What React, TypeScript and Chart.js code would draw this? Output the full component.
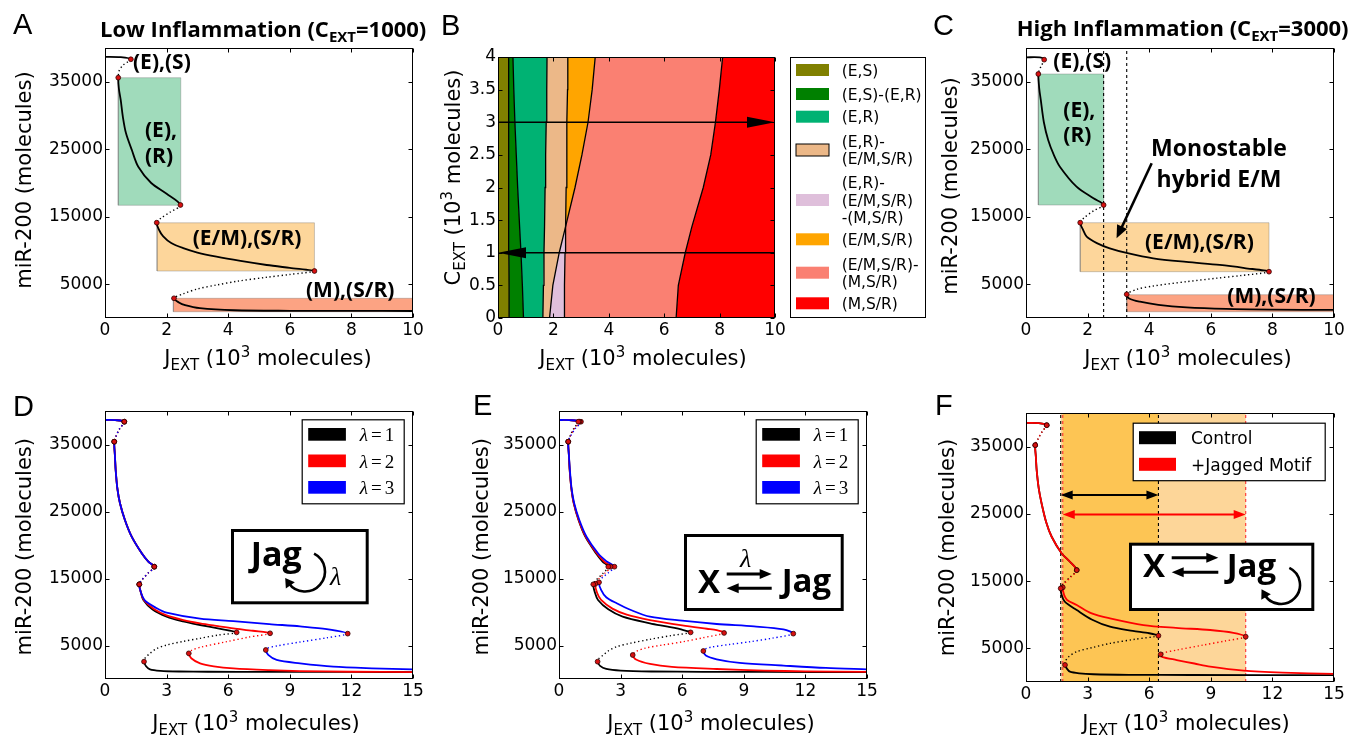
import React, { useEffect, useRef } from 'react';
import { Chart, registerables } from 'chart.js';
Chart.register(...registerables);

type Pt = [number, number];

// ---------------- DATA ----------------
const MIR_TICKS = [5000, 15000, 25000, 35000];
const J10_TICKS = [0, 2, 4, 6, 8, 10];
const J15_TICKS = [0, 3, 6, 9, 12, 15];
const C_TICKS = [0, 0.5, 1, 1.5, 2, 2.5, 3, 3.5, 4];

// Panel A (C_EXT = 1000): branches alternate stable / unstable, sharing fold points
const A_CURVE: Pt[][] = [
  [[0, 38700], [0.5, 38650], [0.84, 38330]],
  [[0.84, 38330], [0.59, 37480], [0.46, 36630], [0.43, 35600]],
  [[0.43, 35600], [0.45, 34000], [0.51, 32300], [0.58, 29800], [0.68, 27400], [0.87, 24900], [1.08, 22400], [1.5, 20000], [2.0, 18400], [2.45, 16740]],
  [[2.45, 16740], [2.12, 15700], [1.82, 14800], [1.68, 14120]],
  [[1.68, 14120], [1.76, 13000], [1.89, 12100], [2.15, 11100], [2.54, 10350], [3.0, 9700], [3.62, 9080], [4.4, 8450], [5.25, 7850], [6.0, 7420], [6.8, 6960]],
  [[6.8, 6960], [6.0, 6450], [5.25, 6030], [4.3, 5450], [3.62, 4890], [3.0, 4300], [2.55, 3600], [2.24, 2920]],
  [[2.24, 2920], [2.4, 2300], [2.6, 1900], [3.08, 1450], [4.2, 1150], [6, 1070], [8, 1050], [10, 1040]],
];
const A_BOX_J = [[0.43, 2.46], [1.69, 6.8], [2.22, 10]];
const A_BOX_MIR = [[16700, 35600], [6960, 14100], [930, 2920]];

// Panel C (C_EXT = 3000)
const C_CURVE: Pt[][] = [
  [[0, 38620], [0.45, 38600], [0.59, 38270]],
  [[0.59, 38270], [0.5, 37400], [0.43, 36700], [0.4, 36150]],
  [[0.4, 36150], [0.43, 34000], [0.48, 32300], [0.58, 29000], [0.72, 26370], [0.9, 24200], [1.1, 22420], [1.64, 19460], [2.19, 17730], [2.52, 16740]],
  [[2.52, 16740], [2.2, 15900], [1.9, 14900], [1.76, 14120]],
  [[1.76, 14120], [1.85, 13100], [1.97, 12050], [2.3, 11100], [2.72, 10320], [3.3, 9600], [4.13, 8840], [5.2, 8300], [6.29, 7860], [7.1, 7400], [7.89, 6860]],
  [[7.89, 6860], [7.0, 6300], [6.2, 5900], [5.21, 5380], [4.13, 4740], [3.6, 4250], [3.27, 3510]],
  [[3.27, 3510], [3.35, 2900], [3.7, 2420], [4.3, 1950], [5.21, 1580], [6.5, 1350], [8, 1250], [10, 1190]],
];
const C_BOX_J = [[0.4, 2.52], [1.76, 7.89], [3.27, 10]];
const C_BOX_MIR = [[16740, 36150], [6860, 14120], [930, 3450]];
const C_DASH_J = [2.52, 3.27];
const C_NOTE_ARROW = [4.08, 22920, 2.94, 11800];

// Panel B phase diagram: boundaries J_EXT(C_EXT)
const B_C = [0, 0.5, 1, 1.4, 2, 2.5, 3, 3.5, 4];
const B_B1 = [0.4, 0.4, 0.39, 0.39, 0.39, 0.39, 0.38, 0.38, 0.38];
const B_B2 = [0.92, 0.88, 0.83, 0.78, 0.71, 0.66, 0.61, 0.57, 0.54];
const B_B3 = [1.62, 1.64, 1.66, 1.68, 1.7, 1.72, 1.74, 1.76, 1.77];
const B_B4 = [1.86, 1.98, 2.21, 2.44, 2.78, 3.03, 3.25, 3.4, 3.51];
const B_B5 = [2.39, 2.4, 2.42, 2.44, 2.46, 2.48, 2.49, 2.51, 2.52];
const B_B6 = [6.43, 6.51, 6.76, 7.0, 7.41, 7.68, 7.85, 7.99, 8.11];
const B_CROSS = 3;
const B_ARROW_C = [3, 1];
const B_LABELS = [['(E,S)'], ['(E,S)-(E,R)'], ['(E,R)'], ['(E,R)-', '(E/M,S/R)'], ['(E,R)-', '(E/M,S/R)', '-(M,S/R)'], ['(E/M,S/R)'], ['(E/M,S/R)-', '(M,S/R)'], ['(M,S/R)']];
const B_COLORS = ['#808000', '#008000', '#00b273', '#ecb888', '#dfbfdb', '#ffa500', '#fa8072', '#ff0000'];

// Panels D / E: lambda = 1, 2, 3
const D_TOP: Pt[][] = [
  [[0, 38660], [0.5, 38640], [0.94, 38400]],
  [[0.94, 38400], [0.72, 37400], [0.53, 36200], [0.45, 35420]],
  [[0.45, 35420], [0.48, 33500], [0.52, 31190], [0.6, 28500], [0.73, 26220], [0.97, 23730], [1.3, 21240], [1.79, 18760], [2.11, 17520], [2.4, 16760]],
  [[2.4, 16760], [2.1, 15800], [1.8, 14800], [1.67, 14130]],
];
const D_L1_LOW: Pt[][] = [
  [[1.67, 14130], [1.75, 12900], [1.87, 11790], [2.3, 10400], [3.0, 9300], [3.8, 8600], [4.63, 8060], [5.5, 7550], [6.41, 6960]],
  [[6.41, 6960], [5.5, 6550], [4.63, 6070], [3.8, 5600], [3.0, 5070], [2.5, 4500], [2.19, 3830], [1.95, 3100], [1.9, 2590]],
  [[1.9, 2590], [2.0, 1900], [2.19, 1440], [2.7, 1220], [3.6, 1120], [5, 1080], [8, 1060], [12, 1050], [15, 1040]],
];
const D_L2_LOW: Pt[][] = [
  [[1.67, 14130], [1.75, 12900], [1.9, 11750], [2.4, 10400], [3.0, 9500], [3.82, 8800], [4.63, 8310], [5.5, 7900], [6.25, 7560], [7.2, 7200], [8.04, 6820]],
  [[8.04, 6820], [7.0, 6250], [5.93, 5570], [4.63, 4730], [4.2, 4250], [4.08, 3830]],
  [[4.08, 3830], [4.2, 3100], [4.63, 2340], [5.3, 1900], [6.25, 1590], [8, 1330], [9.5, 1190], [12, 1080], [15, 1030]],
];
const D_L3_LOW: Pt[][] = [
  [[1.67, 14130], [1.75, 12900], [1.95, 11700], [2.5, 10600], [3.0, 9900], [4.63, 9000], [6.25, 8650], [8.0, 8200], [9.5, 7850], [10.8, 7450], [11.82, 6770]],
  [[11.82, 6770], [10.8, 6150], [9.5, 5520], [8.36, 4930], [7.9, 4600], [7.83, 4330]],
  [[7.83, 4330], [7.95, 3600], [8.36, 2840], [9.5, 2340], [11.12, 1840], [13, 1600], [15, 1440]],
];
const E_L1: Pt[][] = [
  [[0, 38660], [0.5, 38640], [0.94, 38400]],
  [[0.94, 38400], [0.72, 37400], [0.53, 36200], [0.45, 35420]],
  [[0.45, 35420], [0.48, 33500], [0.52, 31190], [0.6, 28500], [0.72, 26220], [0.95, 23730], [1.28, 21240], [1.8, 18760], [2.12, 17520], [2.4, 16760]],
  [[2.4, 16760], [2.12, 15700], [1.82, 14800], [1.67, 14130]],
  [[1.67, 14130], [1.75, 12900], [1.9, 11800], [2.4, 10400], [3.1, 9300], [4.43, 8310], [5.3, 7800], [6.06, 7310], [6.41, 6960]],
  [[6.41, 6960], [5.5, 6500], [4.43, 5920], [3.5, 5350], [2.81, 4830], [2.4, 4200], [2.16, 3580], [1.92, 3000], [1.88, 2590]],
  [[1.88, 2590], [2.0, 1950], [2.3, 1500], [3.0, 1250], [4.5, 1120], [7, 1070], [10, 1050], [15, 1040]],
];
const E_L2: Pt[][] = [
  [[0, 38660], [0.5, 38640], [1.0, 38400]],
  [[1.0, 38400], [0.76, 37400], [0.54, 36200], [0.45, 35420]],
  [[0.45, 35420], [0.48, 33500], [0.52, 31190], [0.6, 28500], [0.72, 26220], [0.96, 23730], [1.3, 21240], [1.84, 18760], [2.2, 17520], [2.51, 16760]],
  [[2.51, 16760], [2.22, 15750], [1.92, 14900], [1.77, 14200]],
  [[1.77, 14200], [1.85, 12900], [2.05, 11800], [2.6, 10500], [3.3, 9600], [4.43, 8800], [6.0, 8000], [7.2, 7500], [7.68, 7310], [8.04, 6870]],
  [[8.04, 6870], [7.0, 6150], [6.06, 5570], [5.0, 5050], [4.2, 4600], [3.75, 4100], [3.59, 3580]],
  [[3.59, 3580], [3.75, 2900], [4.43, 2240], [5.5, 1800], [7.68, 1490], [10, 1250], [12, 1150], [15, 1050]],
];
const E_L3: Pt[][] = [
  [[0, 38660], [0.5, 38640], [1.07, 38400]],
  [[1.07, 38400], [0.8, 37400], [0.55, 36200], [0.45, 35420]],
  [[0.45, 35420], [0.48, 33500], [0.53, 31190], [0.61, 28500], [0.74, 26220], [0.99, 23730], [1.34, 21240], [1.9, 18760], [2.3, 17600], [2.7, 16760]],
  [[2.7, 16760], [2.4, 15850], [2.1, 15100], [1.95, 14430]],
  [[1.95, 14430], [2.05, 13300], [2.3, 12200], [2.81, 11300], [3.5, 10300], [4.43, 9300], [6.0, 8700], [7.68, 8210], [9.5, 7850], [10.93, 7410], [11.41, 6770]],
  [[11.41, 6770], [10.4, 6100], [9.31, 5570], [8.3, 5150], [7.4, 4750], [7.1, 4450], [7.03, 4180]],
  [[7.03, 4180], [7.15, 3500], [7.68, 2940], [8.8, 2400], [10.93, 2000], [13, 1650], [15, 1450]],
];
const LAMBDA_LABELS = ['1', '2', '3'];

// Panel F: control vs +Jagged motif
const F_TOP: Pt[][] = [
  [[0, 38530], [0.6, 38500], [1.01, 38190]],
  [[1.01, 38190], [0.8, 37300], [0.58, 36100], [0.45, 35220]],
  [[0.45, 35220], [0.48, 33500], [0.52, 31500], [0.62, 28800], [0.76, 26550], [0.98, 23800], [1.25, 21600], [1.74, 19120], [2.14, 17880], [2.47, 16640]],
];
const F_CTRL_LOW: Pt[][] = [
  [[2.47, 16640], [2.15, 15600], [1.85, 14700], [1.69, 13920]],
  [[1.69, 13920], [1.75, 12800], [1.9, 11900], [2.47, 10700], [3.2, 9300], [4.09, 8220], [5.2, 7600], [6.0, 7250], [6.45, 6880]],
  [[6.45, 6880], [5.3, 6350], [4.09, 5740], [3.2, 5100], [2.47, 4500], [2.05, 3700], [1.92, 3050], [1.9, 2530]],
  [[1.9, 2530], [2.0, 1950], [2.14, 1530], [2.6, 1280], [3.28, 1150], [5, 1070], [8, 1040], [15, 1020]],
];
const F_JAG_LOW: Pt[][] = [
  [[2.47, 16640], [2.2, 15650], [1.92, 14800], [1.79, 14070]],
  [[1.79, 14070], [1.85, 13000], [2.0, 12200], [2.47, 11440], [3.2, 10200], [4.09, 9460], [5.72, 8470], [7.3, 8050], [8.97, 7730], [10.1, 7300], [10.7, 6730]],
  [[10.7, 6730], [9.7, 6100], [8.64, 5500], [7.34, 4750], [6.7, 4350], [6.56, 4110]],
  [[6.56, 4110], [6.62, 3750], [7.34, 3270], [8.2, 2750], [8.97, 2280], [10.6, 1690], [12.5, 1400], [15, 1200]],
];
const F_CTRL_RANGE = [1.69, 6.45];
const F_JAG_RANGE = [1.79, 10.7];
const F_ARROW_MIR = [27790, 24920];
const F_LABELS = ['Control', '+Jagged Motif'];

// ---------------- HELPERS ----------------
const DOT = [1.3, 2.7];
const BOX_COLORS = ['#a0dbbb', '#fdd69b', '#fca383'];

function curveDatasets(branches: Pt[][], color: string, order: number) {
  const pts: any[] = [];
  const unstable: boolean[] = [];
  const folds: any[] = [];
  branches.forEach((br, bi) => {
    br.forEach((p, pi) => {
      if (bi > 0 && pi === 0) return;
      if (pts.length > 0) unstable.push(bi % 2 === 1);
      pts.push({ x: p[0], y: p[1] });
    });
    if (bi < branches.length - 1) folds.push({ x: br[br.length - 1][0], y: br[br.length - 1][1] });
  });
  return [
    {
      data: pts, borderColor: color, borderWidth: 1.8, pointRadius: 0, tension: 0.3, fill: false, order,
      segment: {
        borderDash: (c: any) => (unstable[c.p0DataIndex] ? DOT : undefined),
        borderWidth: (c: any) => (unstable[c.p0DataIndex] ? 1.4 : undefined),
      },
    },
    {
      data: folds, showLine: false, pointRadius: 2.4, pointBackgroundColor: '#d81010',
      pointBorderColor: '#300000', pointBorderWidth: 0.8, order: -1,
    },
  ];
}

function poly(points: any[], color: string, order = 20, border = 0, borderColor = 'transparent') {
  return { data: points, fill: 'shape', backgroundColor: color, borderWidth: border, borderColor, pointRadius: 0, tension: 0, order };
}

function boxes(js: number[][], ys: number[][]) {
  return js.map((j, i) => poly([
    { x: j[0], y: ys[i][0] }, { x: j[1], y: ys[i][0] }, { x: j[1], y: ys[i][1] }, { x: j[0], y: ys[i][1] }, { x: j[0], y: ys[i][0] },
  ], BOX_COLORS[i], 20, 0.8, 'rgba(110,110,110,0.45)'));
}

function vline(j: number, yMax: number, color: string) {
  return { data: [{ x: j, y: 0 }, { x: j, y: yMax }], borderColor: color, borderWidth: 1.1, borderDash: [3, 3], pointRadius: 0, fill: false, order: 10 };
}

function band(j0: number, j1: number, yMax: number, color: string) {
  return poly([{ x: j0, y: 0 }, { x: j1, y: 0 }, { x: j1, y: yMax }, { x: j0, y: yMax }, { x: j0, y: 0 }], color, 20);
}

function region(left: number[], right: number[], cs: number[]) {
  return [...cs.map((c, i) => ({ x: left[i], y: c })), ...cs.map((c, i) => ({ x: right[i], y: c })).reverse()];
}

function boundary(b: number[]) {
  return { data: b.map((j, i) => ({ x: j, y: B_C[i] })), borderColor: '#000', borderWidth: 1.3, pointRadius: 0, tension: 0, fill: false, order: 5 };
}

interface ArrowSpec { x0: number; y0: number; x1: number; y1: number; color: string; width: number; both: boolean; len: number; half: number; }

function head(ctx: any, tx: number, ty: number, ux: number, uy: number, len: number, half: number) {
  ctx.beginPath();
  ctx.moveTo(tx, ty);
  ctx.lineTo(tx - ux * len - uy * half, ty - uy * len + ux * half);
  ctx.lineTo(tx - ux * len + uy * half, ty - uy * len - ux * half);
  ctx.closePath();
  ctx.fill();
}

function decoPlugin(arrows: ArrowSpec[]) {
  return {
    id: 'deco',
    afterDatasetsDraw(chart: any) {
      const { ctx, chartArea: a } = chart;
      const xs = chart.scales.x, ys = chart.scales.y;
      ctx.save();
      for (const ar of arrows) {
        const p0x = xs.getPixelForValue(ar.x0), p0y = ys.getPixelForValue(ar.y0);
        const p1x = xs.getPixelForValue(ar.x1), p1y = ys.getPixelForValue(ar.y1);
        const d = Math.hypot(p1x - p0x, p1y - p0y);
        const ux = (p1x - p0x) / d, uy = (p1y - p0y) / d;
        ctx.strokeStyle = ar.color; ctx.fillStyle = ar.color; ctx.lineWidth = ar.width;
        const sx = ar.both ? p0x + ux * ar.len * 0.8 : p0x, sy = ar.both ? p0y + uy * ar.len * 0.8 : p0y;
        ctx.beginPath(); ctx.moveTo(sx, sy); ctx.lineTo(p1x - ux * ar.len * 0.8, p1y - uy * ar.len * 0.8); ctx.stroke();
        head(ctx, p1x, p1y, ux, uy, ar.len, ar.half);
        if (ar.both) head(ctx, p0x, p0y, -ux, -uy, ar.len, ar.half);
      }
      ctx.strokeStyle = '#000'; ctx.lineWidth = 1;
      const L = a.left + 0.5, R = a.right - 0.5, T = a.top + 0.5, B = a.bottom - 0.5;
      ctx.beginPath();
      for (const t of xs.ticks) {
        const px = Math.round(xs.getPixelForValue(t.value)) + 0.5;
        ctx.moveTo(px, B); ctx.lineTo(px, B - 4);
        ctx.moveTo(px, T); ctx.lineTo(px, T + 4);
      }
      for (const t of ys.ticks) {
        const py = Math.round(ys.getPixelForValue(t.value)) + 0.5;
        ctx.moveTo(L, py); ctx.lineTo(L + 4, py);
        ctx.moveTo(R, py); ctx.lineTo(R - 4, py);
      }
      ctx.stroke();
      ctx.strokeRect(L, T, R - L, B - T);
      ctx.restore();
    },
  };
}

interface Panel { key: string; L: number; T: number; R: number; B: number; xMax: number; xTicks: number[]; yMax: number; yTicks: number[]; datasets: any[]; arrows: ArrowSpec[]; }

const YW = 70, XH = 30, PT = 12, PR = 18;

function makeConfig(p: Panel): any {
  const font = { family: 'DejaVu Sans', size: 17 };
  return {
    type: 'line',
    data: { datasets: p.datasets },
    options: {
      animation: false, responsive: false, devicePixelRatio: 1, events: [],
      layout: { padding: { left: 0, top: PT, right: PR, bottom: 0 } },
      plugins: { legend: { display: false }, tooltip: { enabled: false } },
      scales: {
        x: {
          type: 'linear', min: 0, max: p.xMax,
          grid: { display: false, drawTicks: false }, border: { display: false },
          afterBuildTicks: (s: any) => { s.ticks = p.xTicks.map((v) => ({ value: v })); },
          afterFit: (s: any) => { s.height = XH; s.paddingLeft = 0; s.paddingRight = 0; },
          ticks: { font, color: '#000', padding: 2, autoSkip: false, maxRotation: 0, callback: (v: any) => String(v) },
        },
        y: {
          type: 'linear', min: 0, max: p.yMax,
          grid: { display: false, drawTicks: false }, border: { display: false },
          afterBuildTicks: (s: any) => { s.ticks = p.yTicks.map((v) => ({ value: v })); },
          afterFit: (s: any) => { s.width = YW; s.paddingTop = 0; s.paddingBottom = 0; },
          ticks: { font, color: '#000', padding: 2, autoSkip: false, callback: (v: any) => String(v) },
        },
      },
    },
    plugins: [decoPlugin(p.arrows)],
  };
}

function ChartPanel({ p }: { p: Panel }) {
  const ref = useRef<HTMLCanvasElement>(null);
  useEffect(() => {
    const chart = new Chart(ref.current as HTMLCanvasElement, makeConfig(p));
    return () => chart.destroy();
  }, []);
  const w = p.R - p.L + YW + PR, h = p.B - p.T + PT + XH;
  return <canvas ref={ref} width={w} height={h} style={{ position: 'absolute', left: p.L - YW, top: p.T - PT, width: w, height: h }} />;
}

// ---------------- PANELS ----------------
const MIR_MAX = 40000;
const zeros = B_C.map(() => 0);
const tens = B_C.map(() => 10);
const k = B_CROSS;

const panels: Panel[] = [
  {
    key: 'A', L: 105, T: 48, R: 413, B: 318, xMax: 10, xTicks: J10_TICKS, yMax: MIR_MAX, yTicks: MIR_TICKS,
    datasets: [...boxes(A_BOX_J, A_BOX_MIR), ...curveDatasets(A_CURVE, '#000', 2)], arrows: [],
  },
  {
    key: 'B', L: 498, T: 57, R: 775, B: 318, xMax: 10, xTicks: J10_TICKS, yMax: 4, yTicks: C_TICKS,
    datasets: [
      poly(region(zeros, B_B1, B_C), B_COLORS[0]),
      poly(region(B_B1, B_B2, B_C), B_COLORS[1]),
      poly(region(B_B2, B_B3, B_C), B_COLORS[2]),
      poly(region(B_B3, [...B_B4.slice(0, k), ...B_B5.slice(k)], B_C), B_COLORS[3]),
      poly(region(B_B4.slice(0, k + 1), B_B5.slice(0, k + 1), B_C.slice(0, k + 1)), B_COLORS[4]),
      poly(region(B_B5.slice(k), B_B4.slice(k), B_C.slice(k)), B_COLORS[5]),
      poly(region([...B_B5.slice(0, k), ...B_B4.slice(k)], B_B6, B_C), B_COLORS[6]),
      poly(region(B_B6, tens, B_C), B_COLORS[7]),
      boundary(B_B1), boundary(B_B2), boundary(B_B3), boundary(B_B4), boundary(B_B5), boundary(B_B6),
    ],
    arrows: [
      { x0: 0, y0: B_ARROW_C[0], x1: 10, y1: B_ARROW_C[0], color: '#000', width: 1.5, both: false, len: 28, half: 5.5 },
      { x0: 10, y0: B_ARROW_C[1], x1: 0, y1: B_ARROW_C[1], color: '#000', width: 1.5, both: false, len: 28, half: 5.5 },
    ],
  },
  {
    key: 'C', L: 1026, T: 48, R: 1334, B: 318, xMax: 10, xTicks: J10_TICKS, yMax: MIR_MAX, yTicks: MIR_TICKS,
    datasets: [...boxes(C_BOX_J, C_BOX_MIR), ...C_DASH_J.map((j) => vline(j, MIR_MAX, '#000')), ...curveDatasets(C_CURVE, '#000', 2)],
    arrows: [{ x0: C_NOTE_ARROW[0], y0: C_NOTE_ARROW[1], x1: C_NOTE_ARROW[2], y1: C_NOTE_ARROW[3], color: '#000', width: 2.6, both: false, len: 13, half: 5.5 }],
  },
  {
    key: 'D', L: 105, T: 411, R: 413, B: 679, xMax: 15, xTicks: J15_TICKS, yMax: MIR_MAX, yTicks: MIR_TICKS,
    datasets: [
      ...curveDatasets([...D_TOP, ...D_L1_LOW], '#000', 4),
      ...curveDatasets([...D_TOP, ...D_L2_LOW], '#ff0000', 3),
      ...curveDatasets([...D_TOP, ...D_L3_LOW], '#0000ff', 2),
    ],
    arrows: [],
  },
  {
    key: 'E', L: 559, T: 411, R: 867, B: 679, xMax: 15, xTicks: J15_TICKS, yMax: MIR_MAX, yTicks: MIR_TICKS,
    datasets: [
      ...curveDatasets(E_L1, '#000', 4),
      ...curveDatasets(E_L2, '#ff0000', 3),
      ...curveDatasets(E_L3, '#0000ff', 2),
    ],
    arrows: [],
  },
  {
    key: 'F', L: 1026, T: 413, R: 1334, B: 682, xMax: 15, xTicks: J15_TICKS, yMax: MIR_MAX, yTicks: MIR_TICKS,
    datasets: [
      band(Math.min(F_CTRL_RANGE[0], F_JAG_RANGE[0]), Math.max(F_CTRL_RANGE[1], F_JAG_RANGE[1]), MIR_MAX, '#fdd699'),
      { ...band(Math.max(F_CTRL_RANGE[0], F_JAG_RANGE[0]), Math.min(F_CTRL_RANGE[1], F_JAG_RANGE[1]), MIR_MAX, '#fdc554'), order: 19 },
      ...F_CTRL_RANGE.map((j) => vline(j, MIR_MAX, '#000')),
      ...F_JAG_RANGE.map((j) => vline(j, MIR_MAX, '#ff3030')),
      ...curveDatasets([...F_TOP, ...F_CTRL_LOW], '#000', 3),
      ...curveDatasets([...F_TOP, ...F_JAG_LOW], '#ff0000', 2),
    ],
    arrows: [
      { x0: F_CTRL_RANGE[0], y0: F_ARROW_MIR[0], x1: F_CTRL_RANGE[1], y1: F_ARROW_MIR[0], color: '#000', width: 2, both: true, len: 12, half: 4.5 },
      { x0: F_JAG_RANGE[0], y0: F_ARROW_MIR[1], x1: F_JAG_RANGE[1], y1: F_ARROW_MIR[1], color: '#ff0000', width: 2, both: true, len: 12, half: 4.5 },
    ],
  },
];

// ---------------- TEXT OVERLAY ----------------
const SANS = 'DejaVu Sans';
const BOLD = 'Open Sans';
const SERIF = 'Liberation Serif';
const LETTER = 'Liberation Sans';

function XTitle({ x, y }: { x: number; y: number }) {
  return (
    <text x={x} y={y} textAnchor="middle" fontFamily={SANS} fontSize={21} style={{ whiteSpace: 'pre' }}>
      J<tspan fontSize={15} dy={5}>EXT</tspan><tspan dy={-5}> (10</tspan><tspan fontSize={15} dy={-8}>3</tspan><tspan dy={8}> molecules)</tspan>
    </text>
  );
}
function YTitle({ x, y }: { x: number; y: number }) {
  return (
    <text transform={`translate(${x},${y}) rotate(-90)`} textAnchor="middle" fontFamily={SANS} fontSize={21}>miR-200 (molecules)</text>
  );
}
function Lbl({ x, y, t, size = 21, anchor = 'start' }: any) {
  return <text x={x} y={y} fontFamily={BOLD} fontWeight="bold" fontSize={size} textAnchor={anchor}>{t}</text>;
}
function SvgArrow({ x0, y0, x1, y1, w = 3, len = 12, half = 5 }: any) {
  const d = Math.hypot(x1 - x0, y1 - y0), ux = (x1 - x0) / d, uy = (y1 - y0) / d;
  const bx = x1 - ux * len, by = y1 - uy * len;
  return (
    <g>
      <line x1={x0} y1={y0} x2={x1 - ux * len * 0.7} y2={y1 - uy * len * 0.7} stroke="#000" strokeWidth={w} />
      <polygon points={`${x1},${y1} ${bx - uy * half},${by + ux * half} ${bx + uy * half},${by - ux * half}`} fill="#000" />
    </g>
  );
}
function CircArrow({ cx, cy, r, a0, a1 }: any) {
  const rad = Math.PI / 180;
  const p0 = [cx + r * Math.cos(a0 * rad), cy + r * Math.sin(a0 * rad)];
  const p1 = [cx + r * Math.cos(a1 * rad), cy + r * Math.sin(a1 * rad)];
  const tx = -Math.sin(a1 * rad), ty = Math.cos(a1 * rad);
  const tip = [p1[0] + tx * 6, p1[1] + ty * 6];
  const bx = p1[0] - tx * 3, by = p1[1] - ty * 3;
  return (
    <g>
      <path d={`M ${p0[0]} ${p0[1]} A ${r} ${r} 0 1 1 ${p1[0]} ${p1[1]}`} fill="none" stroke="#000" strokeWidth={2.6} />
      <polygon points={`${tip[0]},${tip[1]} ${bx - ty * 5.5},${by + tx * 5.5} ${bx + ty * 5.5},${by - tx * 5.5}`} fill="#000" />
    </g>
  );
}

function LambdaLegend({ x, y }: { x: number; y: number }) {
  const cols = ['#000', '#ff0000', '#0000ff'];
  return (
    <g>
      <rect x={x + 0.5} y={y + 0.5} width={102} height={84} fill="#fff" stroke="#000" strokeWidth={1.2} />
      {LAMBDA_LABELS.map((l, i) => (
        <g key={l}>
          <rect x={x + 6.5} y={y + 8.7 + i * 26.5} width={37.7} height={12.7} fill={cols[i]} />
          <text x={x + 58} y={y + 21.7 + i * 26.5} fontFamily={SERIF} fontSize={19}>
            <tspan fontStyle="italic">λ</tspan><tspan dx={3}>=</tspan><tspan dx={3}>{l}</tspan>
          </text>
        </g>
      ))}
    </g>
  );
}

function Overlay() {
  const bRows = [70, 94, 116.7, 150, 200, 239.3, 272.7, 303.3];
  return (
    <svg width={1360} height={736} style={{ position: 'absolute', left: 0, top: 0 }}>
      {/* panel letters */}
      {[['A', 13, 34.3], ['B', 441, 35], ['C', 933, 35], ['D', 13, 415.7], ['E', 473, 415], ['F', 935, 415]].map(([t, x, y]: any) => (
        <text key={t} x={x} y={y} fontFamily={LETTER} fontSize={29}>{t}</text>
      ))}
      {/* titles */}
      <text x={100} y={37.3} fontFamily={BOLD} fontWeight="bold" fontSize={22}>
        Low Inflammation (C<tspan fontSize={15} dy={5}>EXT</tspan><tspan dy={-5}>=1000)</tspan>
      </text>
      <text x={1016.7} y={36} fontFamily={BOLD} fontWeight="bold" fontSize={22}>
        High Inflammation (C<tspan fontSize={15} dy={5}>EXT</tspan><tspan dy={-5}>=3000)</tspan>
      </text>
      {/* axis titles */}
      <XTitle x={268} y={365} />
      <XTitle x={643} y={365} />
      <XTitle x={1188} y={365} />
      <XTitle x={256} y={730} />
      <XTitle x={711} y={730} />
      <XTitle x={1186} y={730} />
      <YTitle x={31} y={180} />
      <YTitle x={957} y={186} />
      <YTitle x={31} y={546.7} />
      <YTitle x={487.5} y={546.7} />
      <YTitle x={954} y={547.5} />
      <text transform="translate(460,177.5) rotate(-90)" textAnchor="middle" fontFamily={SANS} fontSize={21} style={{ whiteSpace: 'pre' }}>
        C<tspan fontSize={15} dy={5}>EXT</tspan><tspan dy={-5}> (10</tspan><tspan fontSize={15} dy={-8}>3</tspan><tspan dy={8}> molecules)</tspan>
      </text>
      {/* A labels */}
      <Lbl x={133} y={69} t="(E),(S)" />
      <Lbl x={145} y={136.7} t="(E)," />
      <Lbl x={145} y={163.3} t="(R)" />
      <Lbl x={192.7} y={245} t="(E/M),(S/R)" />
      <Lbl x={306} y={296.7} t="(M),(S/R)" />
      {/* C labels */}
      <Lbl x={1053.3} y={68.3} t="(E),(S)" />
      <Lbl x={1063.3} y={116.7} t="(E)," />
      <Lbl x={1063.3} y={141.7} t="(R)" />
      <Lbl x={1219} y={156} t="Monostable" size={23} anchor="middle" />
      <Lbl x={1219} y={187.3} t="hybrid E/M" size={23} anchor="middle" />
      <Lbl x={1145} y={249.3} t="(E/M),(S/R)" />
      <Lbl x={1227.3} y={303.3} t="(M),(S/R)" />
      {/* B legend */}
      <rect x={790.5} y={57.5} width={135} height={260} fill="#fff" stroke="#000" strokeWidth={1} />
      {B_LABELS.map((lines, i) => (
        <g key={i}>
          <rect x={796} y={bRows[i] - 6} width={33} height={12} fill={B_COLORS[i]} stroke={i === 3 ? '#000' : 'none'} strokeWidth={1} />
          {lines.map((ln, j) => (
            <text key={j} x={841.7} y={bRows[i] - ((lines.length - 1) / 2) * 17.3 + j * 17.3 + 5.6} fontFamily={SANS} fontSize={15.5}>{ln}</text>
          ))}
        </g>
      ))}
      {/* D / E legends */}
      <LambdaLegend x={301.7} y={419.3} />
      <LambdaLegend x={755.7} y={419.3} />
      {/* F legend */}
      <rect x={1133.2} y={423.2} width={192} height={57.5} fill="#fff" stroke="#000" strokeWidth={1.2} />
      {F_LABELS.map((l, i) => (
        <g key={l}>
          <rect x={1139} y={431.2 + i * 26.6} width={37} height={13} fill={i === 0 ? '#000' : '#ff0000'} />
          <text x={1191} y={444 + i * 26.6} fontFamily={SANS} fontSize={17}>{l}</text>
        </g>
      ))}
      {/* D inset */}
      <rect x={232.5} y={530.5} width={134.7} height={72.3} fill="#fff" stroke="#000" strokeWidth={3} />
      <text x={250.7} y={566} fontFamily={BOLD} fontWeight="bold" fontSize={34}>Jag</text>
      <CircArrow cx={305} cy={571.5} r={20} a0={-63} a1={145} />
      <text x={330} y={585} fontFamily={SERIF} fontStyle="italic" fontSize={26}>λ</text>
      {/* E inset */}
      <rect x={685.5} y={535.5} width={156.7} height={74} fill="#fff" stroke="#000" strokeWidth={3} />
      <text x={698} y={593} fontFamily={BOLD} fontWeight="bold" fontSize={33}>X</text>
      <SvgArrow x0={726.7} y0={574} x1={771.7} y1={574} />
      <SvgArrow x0={771.7} y0={588.3} x1={726.7} y1={588.3} />
      <text x={740} y={566.7} fontFamily={SERIF} fontStyle="italic" fontSize={26}>λ</text>
      <text x={781.7} y={592} fontFamily={BOLD} fontWeight="bold" fontSize={33}>Jag</text>
      {/* F inset */}
      <rect x={1130.5} y={544.2} width={182.3} height={65.3} fill="#fff" stroke="#000" strokeWidth={3} />
      <text x={1143} y={576.7} fontFamily={BOLD} fontWeight="bold" fontSize={33}>X</text>
      <SvgArrow x0={1171.7} y0={557.7} x1={1218.3} y1={557.7} />
      <SvgArrow x0={1218.3} y0={572.3} x1={1171.7} y1={572.3} />
      <text x={1226.7} y={576.7} fontFamily={BOLD} fontWeight="bold" fontSize={33}>Jag</text>
      <CircArrow cx={1281} cy={585} r={19} a0={-64} a1={150} />
    </svg>
  );
}

export default function App() {
  return (
    <div style={{ position: 'absolute', left: 0, top: 0, width: 1360, height: 736, background: '#fff', overflow: 'hidden' }}>
      {panels.map((p) => <ChartPanel key={p.key} p={p} />)}
      <Overlay />
    </div>
  );
}
